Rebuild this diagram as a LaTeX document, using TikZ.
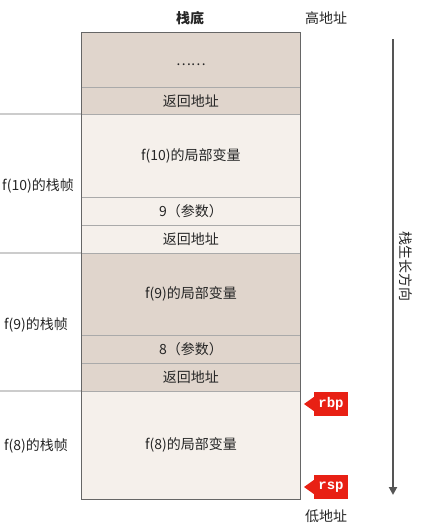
\documentclass[tikz,border=0pt]{standalone}
\usepackage{fontspec}
\setmainfont{Noto Sans CJK SC}
\newfontfamily\monob{Liberation Mono}
\usetikzlibrary{arrows.meta}
\definecolor{darkfill}{HTML}{E0D5CC}
\definecolor{lightfill}{HTML}{F5F0EB}
\definecolor{rowline}{HTML}{AAAAAA}
\definecolor{frameline}{HTML}{666666}
\definecolor{sepline}{HTML}{CCCCCC}
\definecolor{tagred}{HTML}{E82014}
\definecolor{arrowgray}{HTML}{555555}
\tikzset{
  row/.style={draw=rowline, line width=0.8pt, minimum width=219pt, inner sep=0pt, anchor=north west, font=\fontsize{14}{16}\selectfont, text=black!85},
  dk/.style={row, fill=darkfill},
  lt/.style={row, fill=lightfill},
  framelabel/.style={font=\fontsize{14}{16}\selectfont, text=black!85},
  sep/.style={draw=sepline, line width=1.5pt},
  tag/.style={fill=tagred, text=white, font=\monob\bfseries\fontsize{14}{16}\selectfont, minimum width=34pt, minimum height=24pt, inner sep=0pt},
  plain/.style={font=\fontsize{14}{16}\selectfont, text=black!85}
}
\begin{document}
\begin{tikzpicture}[x=1pt,y=-1pt]
\useasboundingbox (0,0) rectangle (422,531);
% rows
\node[dk, minimum height=55pt] (r1) at (81,32) {};
\node[plain] (dots) at (r1.center) [yshift=-5pt] {……};
\node[dk, minimum height=27pt] (r2) at (81,87) {返回地址};
\node[lt, minimum height=83pt] (r3) at (81,114) {f(10)的局部变量};
\node[lt, minimum height=28pt] (r4) at (81,197) {9（参数）};
\node[lt, minimum height=28pt] (r5) at (81,225) {返回地址};
\node[dk, minimum height=82pt] (r6) at (81,253) {f(9)的局部变量};
\node[dk, minimum height=28pt] (r7) at (81,335) {8（参数）};
\node[dk, minimum height=28pt] (r8) at (81,363) {返回地址};
\node[lt, minimum height=108pt] (r9) at (81,391) {f(8)的局部变量};
\draw[frameline, line width=1pt] (r1.north west) rectangle (r9.south east);
% headers
\node[plain, font=\bfseries\fontsize{14}{16}\selectfont] (bottom) at (190,18) {栈底};
\node[plain] (high) at (326,18) {高地址};
\node[plain] (low) at (326,516) {低地址};
% frame separators
\coordinate (s1) at (0,114);
\coordinate (s2) at (0,253);
\coordinate (s3) at (0,391);
\draw[sep] (s1) -- (r3.north west);
\draw[sep] (s2) -- (r6.north west);
\draw[sep] (s3) -- (r9.north west);
% frame labels
\node[framelabel] (l10) at (38,186) {f(10)的栈帧};
\node[framelabel] (l9) at (36,325) {f(9)的栈帧};
\node[framelabel] (l8) at (36,446) {f(8)的栈帧};
% growth arrow
\coordinate (ga) at (393,39);
\coordinate (gb) at (393,495);
\draw[arrowgray, line width=2pt, -{Triangle[length=8pt,width=8pt]}] (ga) -- (gb);
\node[plain, rotate=-90] (grow) at (406,266) {栈生长方向};
% tags
\node[tag] (rbp) at (331,404) {rbp};
\node[tag] (rsp) at (331,487) {rsp};
\fill[tagred] ([yshift=-7pt]rbp.west) -- (304,404) -- ([yshift=7pt]rbp.west) -- cycle;
\fill[tagred] ([yshift=-7pt]rsp.west) -- (304,487) -- ([yshift=7pt]rsp.west) -- cycle;
\end{tikzpicture}
\end{document}
